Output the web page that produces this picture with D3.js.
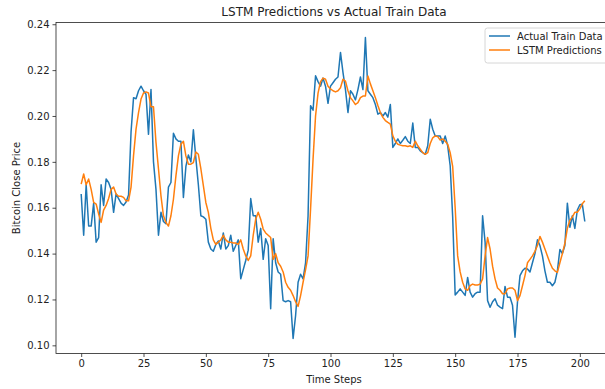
<!DOCTYPE html>
<html>
<head>
<meta charset="utf-8">
<script src="https://cdn.jsdelivr.net/npm/d3@7"></script>
<style>
  body { margin: 0; background: #ffffff; }
  svg { display: block; font-family: "DejaVu Sans", sans-serif; }
</style>
</head>
<body>
<div id="chart"></div>
<script>
// Actual train data (Bitcoin close price, scaled), one value per time step
var actualTrainData = [
  0.166, 0.148, 0.170, 0.152, 0.152, 0.162, 0.145, 0.147, 0.170, 0.161,
  0.1725, 0.171, 0.168, 0.158, 0.166, 0.164, 0.162, 0.161, 0.1625, 0.1655,
  0.193, 0.208, 0.2075, 0.211, 0.213, 0.211, 0.2095, 0.192, 0.2115, 0.180,
  0.168, 0.148, 0.158, 0.154, 0.153, 0.169, 0.171, 0.1925, 0.190, 0.189,
  0.189, 0.1645, 0.178, 0.183, 0.180, 0.194, 0.1815, 0.170, 0.1565, 0.156,
  0.155, 0.145, 0.142, 0.141, 0.144, 0.1455, 0.142, 0.149, 0.142, 0.1435,
  0.148, 0.141, 0.1435, 0.146, 0.129, 0.133, 0.137, 0.1415, 0.164, 0.1565,
  0.1565, 0.145, 0.151, 0.1375, 0.1465, 0.1435, 0.116, 0.1465, 0.136, 0.132,
  0.131, 0.1195, 0.119, 0.1195, 0.119, 0.103, 0.113, 0.1275, 0.131, 0.129,
  0.136, 0.1565, 0.2045, 0.2025, 0.2175, 0.215, 0.213, 0.2165, 0.213, 0.2055,
  0.213, 0.2145, 0.216, 0.217, 0.2277, 0.219, 0.2115, 0.2015, 0.211, 0.2095,
  0.207, 0.2115, 0.217, 0.2115, 0.2342, 0.211, 0.2095, 0.208, 0.205, 0.2008,
  0.2015, 0.200, 0.2015, 0.1995, 0.205, 0.1863, 0.188, 0.190, 0.188, 0.1894,
  0.191, 0.189, 0.188, 0.1969, 0.1863, 0.1863, 0.1848, 0.184, 0.1833, 0.187,
  0.1986, 0.1942, 0.1913, 0.1913, 0.1913, 0.188, 0.1913, 0.187, 0.1783, 0.156,
  0.122, 0.1232, 0.1246, 0.1232, 0.1218, 0.1296, 0.1232, 0.121, 0.1225, 0.1232,
  0.1232, 0.1565, 0.145, 0.1195, 0.1166, 0.119, 0.1203, 0.1175, 0.1167, 0.116,
  0.1257, 0.121, 0.121, 0.1175, 0.1035, 0.119, 0.1304, 0.1325, 0.1336, 0.1333,
  0.132, 0.136, 0.140, 0.146, 0.1435, 0.139, 0.1325, 0.1275, 0.1275, 0.126,
  0.1275, 0.1325, 0.1418, 0.140, 0.1435, 0.162, 0.1515, 0.1565, 0.151, 0.159,
  0.1613, 0.1615, 0.154
];

// LSTM predictions for the same time steps
var lstmPredictions = [
  0.1703, 0.1747, 0.170, 0.1725, 0.168, 0.1623, 0.1616, 0.1573, 0.1536, 0.159,
  0.161, 0.164, 0.168, 0.169, 0.166, 0.165, 0.165, 0.1645, 0.163, 0.163,
  0.169, 0.1827, 0.1943, 0.2015, 0.2074, 0.210, 0.2105, 0.210, 0.204, 0.204,
  0.1885, 0.177, 0.1652, 0.1565, 0.1536, 0.152, 0.1565, 0.1637, 0.1739, 0.1826,
  0.1877, 0.189, 0.1826, 0.179, 0.179, 0.1797, 0.1843, 0.1833, 0.177, 0.1696,
  0.1623, 0.158, 0.151, 0.146, 0.144, 0.145, 0.146, 0.148, 0.146, 0.145,
  0.145, 0.1446, 0.1446, 0.144, 0.146, 0.142, 0.139, 0.137, 0.139, 0.148,
  0.155, 0.158, 0.155, 0.1507, 0.149, 0.148, 0.147, 0.1375, 0.140, 0.136,
  0.1345, 0.132, 0.1275, 0.1253, 0.124, 0.1217, 0.119, 0.117, 0.1217, 0.1275,
  0.133, 0.139, 0.1594, 0.1812, 0.200, 0.210, 0.215, 0.2165, 0.216, 0.213,
  0.2118, 0.211, 0.2105, 0.211, 0.2123, 0.216, 0.2152, 0.211, 0.208, 0.2066,
  0.205, 0.2058, 0.208, 0.2087, 0.2087, 0.2174, 0.214, 0.211, 0.208, 0.2046,
  0.2015, 0.1994, 0.198, 0.1972, 0.1965, 0.1913, 0.189, 0.1877, 0.1873, 0.187,
  0.187, 0.1867, 0.187, 0.1863, 0.189, 0.187, 0.1855, 0.184, 0.1833, 0.184,
  0.188, 0.1905, 0.1913, 0.191, 0.1895, 0.190, 0.189, 0.1877, 0.184, 0.178,
  0.160, 0.139, 0.132, 0.1275, 0.1246, 0.124, 0.126, 0.1267, 0.1263, 0.1263,
  0.1267, 0.129, 0.139, 0.147, 0.142, 0.1345, 0.129, 0.125, 0.124, 0.1225,
  0.1225, 0.1246, 0.125, 0.125, 0.124, 0.1195, 0.1217, 0.126, 0.1304, 0.136,
  0.1375, 0.139, 0.141, 0.1435, 0.1475, 0.145, 0.142, 0.139, 0.136, 0.1336,
  0.1325, 0.1318, 0.136, 0.140, 0.1445, 0.151, 0.1545, 0.156, 0.158, 0.158,
  0.1595, 0.1617, 0.163
];

var xTickValues = [0, 25, 50, 75, 100, 125, 150, 175, 200];
var yTickValues = [0.10, 0.12, 0.14, 0.16, 0.18, 0.20, 0.22, 0.24];
var seriesNames = ["Actual Train Data", "LSTM Predictions"];
var seriesColors = ["#1f77b4", "#ff7f0e"];

function drawLineChart(){
    var w = 605;
    var h = 389;
    // plot box (right edge falls outside the picture like the original)
    var left = 56, right = 610, top = 22.5, bottom = 353.5;

    var svg = d3.select("#chart")
        .append("svg")
        .attr("width", w)
        .attr("height", h);

    // matplotlib style 5% margins around the data
    var n = actualTrainData.length;
    var xPad = (n - 1) * 0.05;
    var all = actualTrainData.concat(lstmPredictions);
    var yMin = d3.min(all), yMax = d3.max(all);
    var yPad = (yMax - yMin) * 0.05;

    var xScale = d3.scaleLinear()
        .domain([-xPad, n - 1 + xPad])
        .range([left, right]);
    var yScale = d3.scaleLinear()
        .domain([yMin - yPad, yMax + yPad])
        .range([bottom, top]);

    // lines
    var line = d3.line()
        .x(function(d, i){ return xScale(i); })
        .y(function(d){ return yScale(d); });

    [actualTrainData, lstmPredictions].forEach(function(series, k){
        svg.append("path")
            .datum(series)
            .attr("d", line)
            .attr("fill", "none")
            .attr("stroke", seriesColors[k])
            .attr("stroke-width", 1.5)
            .attr("stroke-linejoin", "round");
    });

    // frame
    svg.append("rect")
        .attr("x", left)
        .attr("y", top)
        .attr("width", right - left)
        .attr("height", bottom - top)
        .attr("fill", "none")
        .attr("stroke", "#222")
        .attr("stroke-width", 0.8);

    // axes
    var xAxis = d3.axisBottom(xScale)
        .tickValues(xTickValues)
        .tickSize(3.5)
        .tickPadding(3);
    var yAxis = d3.axisLeft(yScale)
        .tickValues(yTickValues)
        .tickFormat(d3.format(".2f"))
        .tickSize(3.5)
        .tickPadding(3);

    var gx = svg.append("g")
        .attr("transform", "translate(0," + bottom + ")")
        .call(xAxis);
    var gy = svg.append("g")
        .attr("transform", "translate(" + left + ",0)")
        .call(yAxis);

    [gx, gy].forEach(function(g){
        g.select(".domain").remove();
        g.selectAll("line").attr("stroke", "#222").attr("stroke-width", 0.8);
        g.selectAll("text")
            .attr("fill", "#222")
            .style("font-size", "10px")
            .style("font-family", "DejaVu Sans, sans-serif");
    });

    // title and axis labels
    svg.append("text")
        .attr("x", 334)
        .attr("y", 16)
        .attr("text-anchor", "middle")
        .attr("fill", "#222")
        .style("font-size", "12px")
        .text("LSTM Predictions vs Actual Train Data");

    svg.append("text")
        .attr("x", 334)
        .attr("y", 383)
        .attr("text-anchor", "middle")
        .attr("fill", "#222")
        .style("font-size", "10px")
        .text("Time Steps");

    svg.append("text")
        .attr("transform", "translate(20," + ((top + bottom) / 2) + ") rotate(-90)")
        .attr("text-anchor", "middle")
        .attr("fill", "#222")
        .style("font-size", "10px")
        .text("Bitcoin Close Price");

    // legend
    var legend = svg.append("g")
        .attr("transform", "translate(485,28)");
    legend.append("rect")
        .attr("width", 130)
        .attr("height", 35)
        .attr("rx", 2.5)
        .attr("fill", "#ffffff")
        .attr("fill-opacity", 0.8)
        .attr("stroke", "#cccccc")
        .attr("stroke-width", 0.8);
    seriesNames.forEach(function(name, k){
        var yy = 8 + k * 14;
        legend.append("line")
            .attr("x1", 4).attr("x2", 25)
            .attr("y1", yy).attr("y2", yy)
            .attr("stroke", seriesColors[k])
            .attr("stroke-width", 1.5);
        legend.append("text")
            .attr("x", 32)
            .attr("y", yy + 3.5)
            .attr("fill", "#222")
            .style("font-size", "10px")
            .text(name);
    });
}

window.onload = function(){
    drawLineChart();
};
</script>
</body>
</html>
